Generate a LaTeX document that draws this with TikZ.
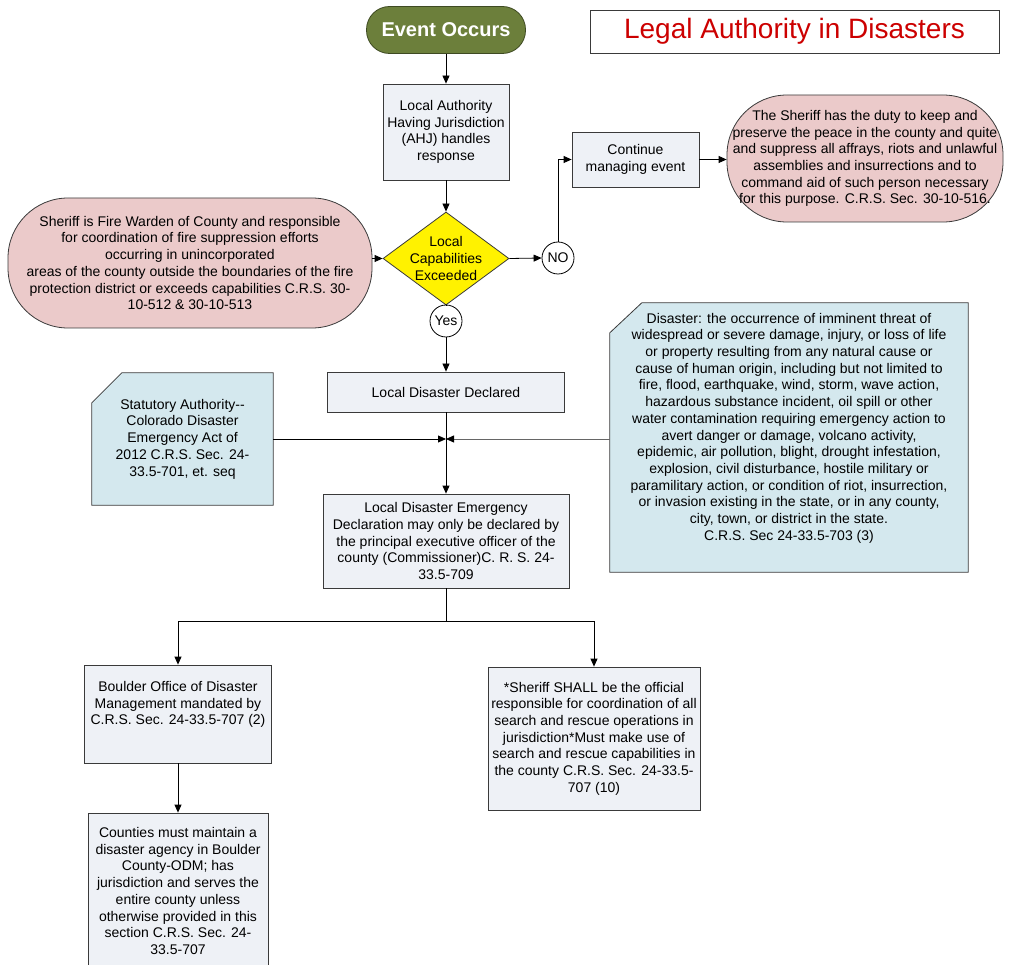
\documentclass[tikz,border=0pt]{standalone}
\usepackage{fontspec}
\setmainfont{Liberation Sans}
\usetikzlibrary{arrows.meta,shapes.geometric,backgrounds}

\definecolor{evgreen}{HTML}{6C7F3B}
\definecolor{evdark}{HTML}{3E4A22}
\definecolor{pinkfill}{HTML}{EBCACA}
\definecolor{boxfill}{HTML}{EEF1F6}
\definecolor{notefill}{HTML}{D4E8EE}
\definecolor{titlered}{HTML}{CC0000}
\definecolor{edge}{HTML}{3A3A3A}

\begin{document}
\begin{tikzpicture}[x=1pt,y=-1pt,
  every node/.style={font=\fontsize{14}{16.7}\selectfont, align=center, inner sep=0pt},
  procbox/.style={draw=edge, fill=boxfill, line width=0.8pt},
  pinkbox/.style={draw=edge, fill=pinkfill, line width=0.8pt, rounded corners=60pt},
  notebox/.style={draw=edge, fill=notefill, line width=0.8pt},
  choice/.style={circle, draw=black, fill=white, line width=0.8pt, minimum size=32pt},
  conn/.style={line width=0.8pt, -{Triangle[length=8pt,width=7pt,color=black,fill=black]}},
  plain/.style={line width=0.8pt}
]
\useasboundingbox (0,0) rectangle (1015,965);

% start and title
\node[fill=evgreen, draw=evdark, line width=0.8pt, rounded corners=23pt,
      minimum width=159pt, minimum height=47pt, text=white,
      font=\bfseries\fontsize{20}{24}\selectfont] (ev) at (446,30) {Event Occurs};
\node[draw=edge, line width=0.8pt, minimum width=409pt, minimum height=43pt,
      text=titlered, font=\fontsize{28}{32}\selectfont] (title) at (794.5,31.5) {Legal Authority in Disasters};

% first response and decision
\node[procbox, minimum width=126pt, minimum height=96pt] (ahj) at (446,132)
  {Local Authority\\Having Jurisdiction\\(AHJ) handles\\response};
\node[diamond, draw=edge, fill=yellow, line width=0.8pt, inner sep=0pt,
      minimum width=126pt, minimum height=93pt] (dia) at (446,258.5) {};
\node (diatext) at (dia.center) {Local\\Capabilities\\Exceeded};
\node[choice] (no) at (558,258) {NO};
\node[choice] (yes) at (446,321) {Yes};

\node[procbox, minimum width=127pt, minimum height=55pt] (cont) at (635.5,159.5)
  {Continue\\managing event};

\node[pinkbox, minimum width=276pt, minimum height=127pt] (pinkR) at (865,158.5)
  {The Sheriff has the duty to keep and\\preserve the peace in the county and quite\\and suppress all affrays, riots and unlawful\\assemblies and insurrections and to\\command aid of such person necessary\\for this purpose. C.R.S. Sec. 30-10-516.};

\node[pinkbox, minimum width=364pt, minimum height=130pt] (pinkL) at (190,263)
  {Sheriff is Fire Warden of County and responsible\\for coordination of fire suppression efforts\\occurring in unincorporated\\areas of the county outside the boundaries of the fire\\protection district or exceeds capabilities C.R.S. 30-\\10-512 \& 30-10-513};

% declaration
\node[procbox, minimum width=237pt, minimum height=40pt] (ldd) at (446,392) {Local Disaster Declared};
\node[procbox, minimum width=246pt, minimum height=94pt] (lde) at (446,541)
  {Local Disaster Emergency\\Declaration may only be declared by\\the principal executive officer of the\\county (Commissioner)C. R. S. 24-\\33.5-709};

% statutory notes
\node[minimum width=181pt, minimum height=132pt] (notL) at (182.5,439)
  {Statutory Authority-{}-\\Colorado Disaster\\Emergency Act of\\2012 C.R.S. Sec. 24-\\33.5-701, et. seq};
\node[minimum width=358pt, minimum height=269pt] (notR) at (789,437.5) {};
\node[anchor=north] (notRtext) at ([yshift=-10pt]notR.north)
  {Disaster: the occurrence of imminent threat of\\widespread or severe damage, injury, or loss of life\\or property resulting from any natural cause or\\cause of human origin, including but not limited to\\fire, flood, earthquake, wind, storm, wave action,\\hazardous substance incident, oil spill or other\\water contamination requiring emergency action to\\avert danger or damage, volcano activity,\\epidemic, air pollution, blight, drought infestation,\\explosion, civil disturbance, hostile military or\\paramilitary action, or condition of riot, insurrection,\\or invasion existing in the state, or in any county,\\city, town, or district in the state.\\C.R.S. Sec 24-33.5-703 (3)};

\begin{scope}[on background layer]
  \path[notebox] ([xshift=30pt]notL.north west) -- (notL.north east) -- (notL.south east)
    -- (notL.south west) -- ([yshift=-30pt]notL.north west) -- cycle;
  \path[notebox] ([xshift=32pt]notR.north west) -- (notR.north east) -- (notR.south east)
    -- (notR.south west) -- ([yshift=-30pt]notR.north west) -- cycle;
\end{scope}

% offices
\node[procbox, minimum width=187pt, minimum height=98pt] (bod) at (178,714)
  {Boulder Office of Disaster\\Management mandated by\\C.R.S. Sec. 24-33.5-707 (2)\\\strut};
\node[procbox, minimum width=212pt, minimum height=143pt] (shall) at (594,738.5)
  {*Sheriff SHALL be the official\\responsible for coordination of all\\search and rescue operations in\\jurisdiction*Must make use of\\search and rescue capabilities in\\the county C.R.S. Sec. 24-33.5-\\707 (10)};
\node[procbox, minimum width=180pt, minimum height=156pt] (cty) at (178,891)
  {Counties must maintain a\\disaster agency in Boulder\\County-ODM; has\\jurisdiction and serves the\\entire county unless\\otherwise provided in this\\section C.R.S. Sec. 24-\\33.5-707};

% connectors
\coordinate (jn) at (446,439);
\coordinate (sp) at (446,621);
\draw[conn] (ev) -- (ahj);
\draw[conn] (ahj) -- (dia.north);
\draw[conn] (pinkL.east |- dia.west) -- (dia.west);
\draw[conn] (dia.east) -- (no.west);
\draw[conn] (no.north) |- (cont.west);
\draw[conn] (cont.east) -- (cont.east -| pinkR.west);
\draw[plain] (dia.south) -- (yes.north);
\draw[conn] (yes.south) -- (ldd.north);
\draw[conn] (ldd.south) -- (lde.north);
\draw[conn] (notL.east |- jn) -- (jn);
\draw[conn, draw=black!60] (notR.west |- jn) -- (jn);
\draw[plain] (lde.south) -- (sp);
\draw[conn] (sp) -| (bod.north);
\draw[conn] (sp) -| (shall.north);
\draw[conn] (bod.south) -- (cty.north);
\end{tikzpicture}
\end{document}
